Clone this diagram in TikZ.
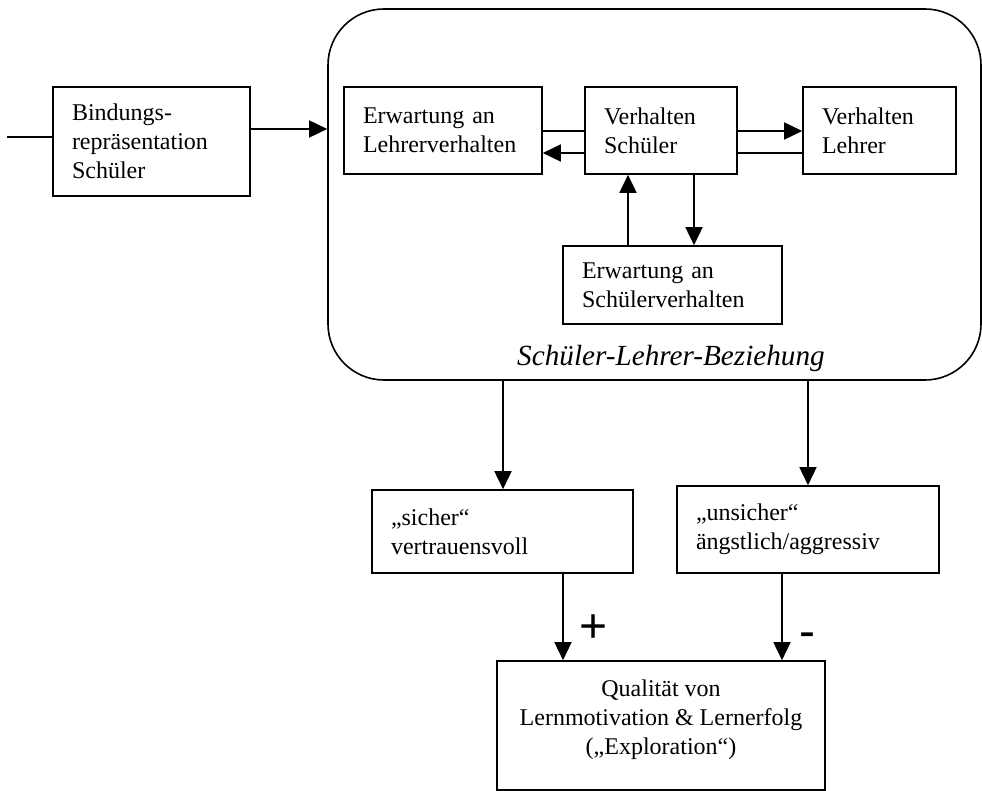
\documentclass[tikz,border=0pt]{standalone}
\usepackage{fontspec}
\setmainfont{Liberation Serif}
\newfontfamily\signfont{Liberation Sans}
\usetikzlibrary{arrows.meta}

\tikzset{
  box/.style={draw, line width=0.8pt, inner xsep=9.5pt, inner ysep=0pt, align=left},
  arr/.style={line width=0.8pt, -{Triangle[length=9pt,width=8.5pt]}},
  ln/.style={line width=0.8pt},
  sign/.style={font=\signfont\fontsize{24}{24}\selectfont, inner sep=0pt}
}

\begin{document}
\begin{tikzpicture}[x=0.5pt, y=-0.5pt, font=\fontsize{12}{14.5}\selectfont]
\useasboundingbox (0,0) rectangle (982,791);

% frame of the relation
\node[draw, line width=0.8pt, rounded corners=28pt, minimum width=326.5pt, minimum height=185.5pt] (frame) at (654.5,194.5) {};
\node[font=\fontsize{14.6}{17}\selectfont\itshape] (rel) at (671,358) {Schüler-Lehrer-Beziehung};

% boxes
\node[box, text width=79.5pt, minimum height=54.5pt] (bind) at (151.5,141.5) {Bindungs-\\repräsentation\\Schüler};
\node[box, text width=80pt, minimum height=43.5pt] (erw) at (443,130.5) {Erwartung an\\Lehrerverhalten};
\node[box, text width=57pt, minimum height=43.5pt] (vs) at (661,130.5) {Verhalten\\Schüler};
\node[box, text width=57.5pt, minimum height=43.5pt] (vl) at (879.5,130.5) {Verhalten\\Lehrer};
\node[box, text width=90.5pt, minimum height=39pt] (es) at (672.5,285) {Erwartung an\\Schülerverhalten};
\node[box, text width=111.5pt, minimum height=41.5pt] (sicher) at (502.5,531.5) {„sicher“\\vertrauensvoll};
\node[box, text width=112pt, minimum height=43.5pt] (unsicher) at (808,529.5) {„unsicher“\\ängstlich/aggressiv};
\node[draw, line width=0.8pt, minimum width=164pt, minimum height=64.5pt] (qual) at (661,725.5) {};
\node[anchor=north, align=center, inner sep=0pt] (qualtext) at (661,679) {Qualität von\\Lernmotivation \& Lernerfolg\\(„Exploration“)};

% connectors
\coordinate (in) at (7,137);
\draw[ln] (in) -- (in -| bind.west);
\draw[arr] (bind.east |- 0,129) -- (frame.west |- 0,129);
\draw[ln] (erw.east |- 0,131) -- (vs.west |- 0,131);
\draw[arr] (vs.west |- 0,153) -- (erw.east |- 0,153);
\draw[arr] (vs.east |- 0,131) -- (vl.west |- 0,131);
\draw[ln] (vs.east |- 0,153) -- (vl.west |- 0,153);
\draw[arr] (es.north -| 628,0) -- (vs.south -| 628,0);
\draw[arr] (vs.south -| 694,0) -- (es.north -| 694,0);
\draw[arr] (frame.south -| 503,0) -- (sicher.north -| 503,0);
\draw[arr] (frame.south -| unsicher.north) -- (unsicher.north);
\draw[arr] (sicher.south -| 563,0) -- (qual.north -| 563,0);
\draw[arr] (unsicher.south -| 782,0) -- (qual.north -| 782,0);

\node[sign] (plus) at (594,629) {+};
\node[sign] (minus) at (807,640) {-};
\end{tikzpicture}
\end{document}
